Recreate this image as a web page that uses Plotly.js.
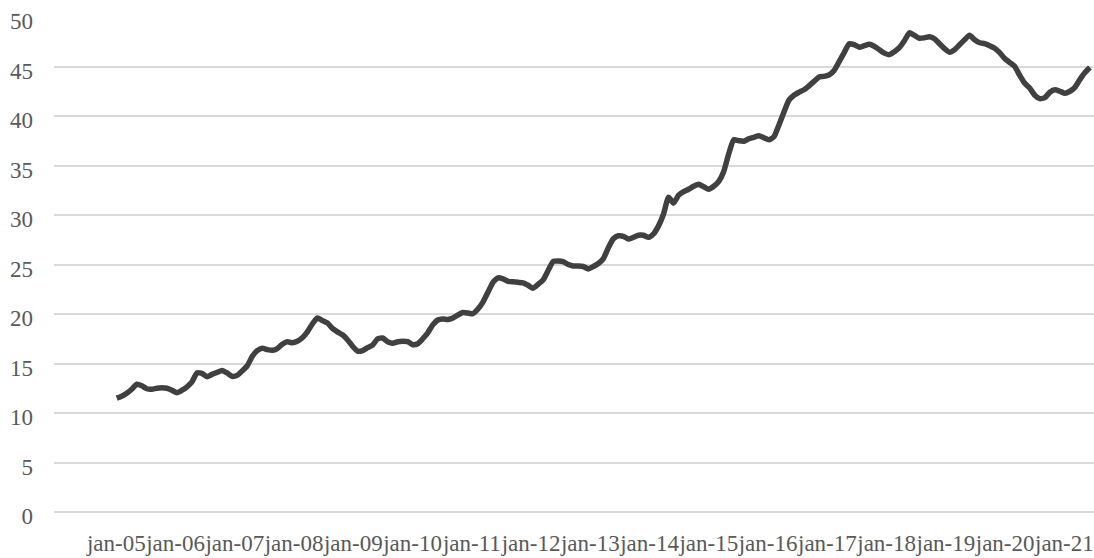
<!DOCTYPE html>
<html>
<head>
<meta charset="utf-8">
<script src="https://cdn.plot.ly/plotly-3.0.1.min.js"></script>
<style>
  html, body { margin: 0; padding: 0; background: #ffffff; }
  #chart { width: 1094px; height: 558px; }
</style>
</head>
<body>
<div id="chart"></div>
<script>
// Monthly values from jan-05 onward
const values2005 = [11.5, 11.7, 12.0, 12.4, 12.9, 12.75, 12.45, 12.4, 12.5, 12.55, 12.5, 12.3];
const values2006 = [12.05, 12.3, 12.65, 13.15, 14.05, 14.0, 13.65, 13.9, 14.1, 14.3, 14.05, 13.7];
const values2007 = [13.8, 14.25, 14.75, 15.7, 16.3, 16.55, 16.4, 16.33, 16.5, 16.95, 17.2, 17.1];
const values2008 = [17.25, 17.6, 18.2, 19.0, 19.6, 19.35, 19.1, 18.55, 18.2, 17.9, 17.4, 16.75];
const values2009 = [16.25, 16.3, 16.6, 16.85, 17.5, 17.58, 17.2, 17.05, 17.2, 17.24, 17.2, 16.9];
const values2010 = [17.0, 17.5, 18.1, 18.9, 19.4, 19.5, 19.45, 19.6, 19.9, 20.15, 20.1, 20.03];
const values2011 = [20.5, 21.2, 22.2, 23.2, 23.65, 23.55, 23.3, 23.25, 23.2, 23.15, 22.9, 22.6];
const values2012 = [23.0, 23.45, 24.4, 25.3, 25.35, 25.3, 25.0, 24.85, 24.85, 24.8, 24.55, 24.8];
const values2013 = [25.1, 25.6, 26.7, 27.6, 27.9, 27.85, 27.57, 27.75, 27.95, 27.95, 27.75, 28.1];
const values2014 = [28.9, 30.1, 31.8, 31.2, 32.0, 32.35, 32.6, 32.9, 33.1, 32.85, 32.6, 32.9];
const values2015 = [33.4, 34.4, 36.2, 37.6, 37.5, 37.45, 37.7, 37.85, 38.0, 37.8, 37.6, 37.9];
const values2016 = [39.1, 40.4, 41.6, 42.1, 42.4, 42.65, 43.05, 43.5, 43.95, 44.0, 44.15, 44.6];
const values2017 = [45.5, 46.4, 47.3, 47.2, 46.95, 47.1, 47.25, 47.05, 46.7, 46.35, 46.2, 46.5];
const values2018 = [46.9, 47.6, 48.4, 48.15, 47.85, 47.9, 48.0, 47.8, 47.3, 46.8, 46.45, 46.7];
const values2019 = [47.2, 47.7, 48.15, 47.7, 47.4, 47.3, 47.1, 46.85, 46.4, 45.8, 45.4, 45.0];
const values2020 = [44.1, 43.3, 42.8, 42.1, 41.75, 41.85, 42.4, 42.65, 42.5, 42.3, 42.5, 42.9];
const values2021 = [43.7, 44.4, 44.9];

const yearLabels = ["jan-05","jan-06","jan-07","jan-08","jan-09","jan-10","jan-11","jan-12",
                    "jan-13","jan-14","jan-15","jan-16","jan-17","jan-18","jan-19","jan-20","jan-21"];
const yTicks = [0, 5, 10, 15, 20, 25, 30, 35, 40, 45, 50];

const series = [].concat(values2005, values2006, values2007, values2008, values2009, values2010,
  values2011, values2012, values2013, values2014, values2015, values2016, values2017,
  values2018, values2019, values2020, values2021);
const monthIndex = series.map((_, i) => i);
const labelIndex = yearLabels.map((_, i) => i);

const fontFamily = 'Liberation Serif, Times New Roman, serif';
const textColor = '#595959';

Plotly.newPlot('chart', [{
  type: 'scatter',
  mode: 'lines',
  x: monthIndex,
  y: series,
  xaxis: 'x',
  yaxis: 'y',
  line: { color: '#404040', width: 5.5, shape: 'spline', smoothing: 0.5 },
  hoverinfo: 'skip'
}, {
  // carrier for the category-label axis (no visible marks)
  type: 'scatter',
  mode: 'markers',
  x: labelIndex,
  y: labelIndex.map(() => null),
  xaxis: 'x2',
  yaxis: 'y',
  marker: { opacity: 0 },
  hoverinfo: 'skip'
}], {
  width: 1094,
  height: 558,
  margin: { l: 54, r: 0, t: 17, b: 45.5, pad: 0 },
  paper_bgcolor: '#ffffff',
  plot_bgcolor: '#ffffff',
  showlegend: false,
  font: { family: fontFamily, size: 23, color: textColor },
  xaxis: {
    range: [-12.5, 194.8],
    showticklabels: false,
    showgrid: false,
    zeroline: false,
    showline: false,
    ticks: ''
  },
  xaxis2: {
    overlaying: 'x',
    anchor: 'y',
    side: 'bottom',
    range: [-1.0515, 16.50],
    tickmode: 'array',
    tickvals: labelIndex,
    ticktext: yearLabels,
    tickangle: 0,
    ticklabeloverflow: 'allow',
    showgrid: false,
    zeroline: false,
    showline: false,
    ticks: '',
    ticklabelstandoff: 15,
    tickfont: { family: fontFamily, size: 23, color: textColor }
  },
  yaxis: {
    range: [0, 50],
    tickmode: 'array',
    tickvals: yTicks,
    showgrid: true,
    gridcolor: '#d9d9d9',
    gridwidth: 2,
    zeroline: true,
    zerolinecolor: '#d9d9d9',
    zerolinewidth: 2,
    showline: false,
    ticks: '',
    ticklabelstandoff: 20,
    ticklabelshift: 4,
    tickfont: { family: fontFamily, size: 23, color: textColor }
  }
}, { staticPlot: true, displayModeBar: false });
</script>
</body>
</html>
